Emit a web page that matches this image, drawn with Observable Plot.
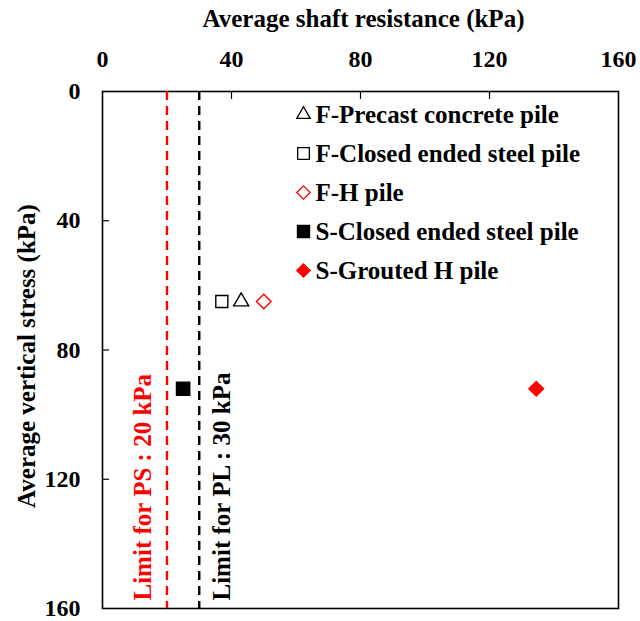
<!DOCTYPE html>
<html>
<head>
<meta charset="utf-8">
<script src="https://cdn.jsdelivr.net/npm/d3@7"></script>
<script src="https://cdn.jsdelivr.net/npm/@observablehq/plot@0.6"></script>
<style>
  html, body { margin: 0; padding: 0; background: #fff; }
</style>
</head>
<body>
<div id="chart"></div>
<script>
// ---- data ----
const series = ["F-Precast concrete pile", "F-Closed ended steel pile", "F-H pile", "S-Closed ended steel pile", "S-Grouted H pile"];
const shaftResistance = [43, 37, 50, 25, 134.5];
const verticalStress = [65, 65, 65, 92, 92];
const limitValues = [20, 30];
const limitLabels = ["Limit for PS : 20 kPa", "Limit for PL : 30 kPa"];
const xTicks = [0, 40, 80, 120, 160];
const yTicks = [0, 40, 80, 120, 160];
const xTitle = "Average shaft resistance (kPa)";
const yTitle = "Average vertical stress (kPa)";

// ---- styles ----
const symbolOf = ["triangle", "square", "diamond2", "square", "diamond2"];
const fillOf = ["none", "none", "none", "black", "red"];
const strokeOf = ["black", "black", "red", "black", "red"];
const rOf = [5.6, 6.8, 6.6, 7.5, 6.6];
const legendROf = [5.0, 6.6, 6.0, 6.8, 6.0];
const limitColors = ["red", "black"];

const points = series.map((s, i) => ({series: s, x: shaftResistance[i], y: verticalStress[i], i}));
const limits = limitValues.map((v, i) => ({value: v, label: limitLabels[i], i}));

const font = "'Liberation Serif', 'Times New Roman', serif";
const FS = 25;   // text size
const TS = 24;   // tick label size
const marks = [];

// frame
marks.push(Plot.frame({stroke: "black", strokeWidth: 1.6}));

// axes: labels
marks.push(Plot.axisX(xTicks, {anchor: "top", tickSize: 0, tickPadding: 25, fontSize: TS, fontWeight: "bold", label: null}));
marks.push(Plot.axisY(yTicks, {anchor: "left", tickSize: 0, tickPadding: 22, fontSize: TS, fontWeight: "bold", label: null}));
// axes: inward ticks
marks.push(Plot.axisX(xTicks.slice(1, -1), {anchor: "top", tickSize: -7, tickFormat: () => "", label: null, strokeWidth: 1.2}));
marks.push(Plot.axisY(yTicks.slice(1, -1), {anchor: "left", tickSize: -7, tickFormat: () => "", label: null, strokeWidth: 1.2}));

// titles
marks.push(Plot.text([xTitle], {frameAnchor: "top", text: d => d, lineAnchor: "middle", textAnchor: "middle",
  dx: 3, dy: -73, fontSize: FS, fontWeight: "bold"}));
marks.push(Plot.text([yTitle], {frameAnchor: "left", text: d => d, rotate: -90, lineAnchor: "middle", textAnchor: "middle",
  dx: -76, dy: 6, fontSize: FS, fontWeight: "bold"}));

// limit lines
limits.forEach((l, i) => {
  marks.push(Plot.ruleX([l], {x: "value", stroke: limitColors[i], strokeWidth: 2.4, strokeDasharray: "9,6"}));
  marks.push(Plot.text([l], {x: "value", frameAnchor: "bottom", text: "label", rotate: -90, textAnchor: "start", lineAnchor: "middle",
    dx: i === 0 ? -24 : 23, dy: -8, fill: limitColors[i], fontSize: FS, fontWeight: "bold"}));
});

// data points
points.forEach((p, i) => {
  marks.push(Plot.dot([p], {x: "x", y: "y", symbol: symbolOf[i], r: rOf[i], fill: fillOf[i], stroke: strokeOf[i], strokeWidth: 1.4}));
});

// legend
series.forEach((s, i) => {
  marks.push(Plot.dot([s], {frameAnchor: "top-left", dx: 201, dy: 23 + 39 * i, symbol: symbolOf[i], r: legendROf[i],
    fill: fillOf[i], stroke: strokeOf[i], strokeWidth: 1.3}));
  marks.push(Plot.text([s], {frameAnchor: "top-left", dx: 213, dy: 23 + 39 * i, text: d => d, textAnchor: "start",
    lineAnchor: "middle", fontSize: FS, fontWeight: "bold"}));
});

const chart = Plot.plot({
  width: 640,
  height: 621,
  marginLeft: 102,
  marginRight: 22,
  marginTop: 91,
  marginBottom: 13,
  style: {fontFamily: font, color: "black", background: "white"},
  x: {domain: [0, 160], axis: null},
  y: {domain: [0, 160], reverse: true, axis: null},
  marks
});
document.getElementById("chart").appendChild(chart);
</script>
</body>
</html>
